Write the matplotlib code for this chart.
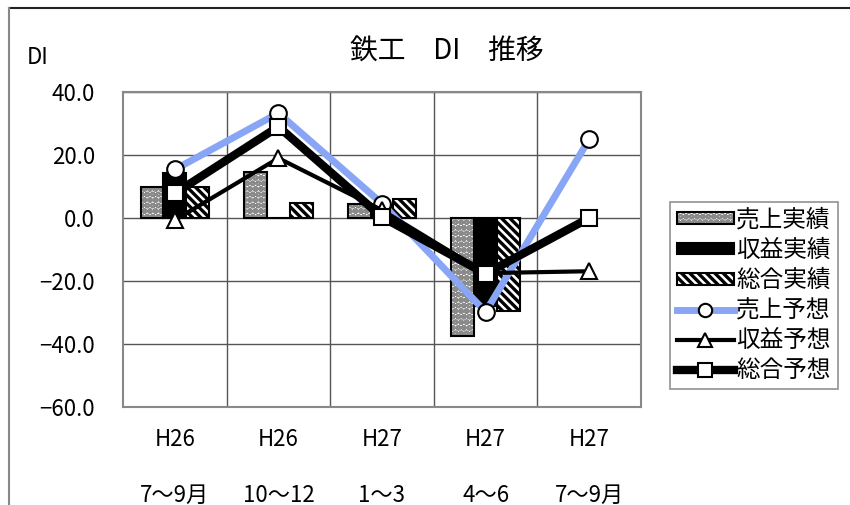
import numpy as np
import matplotlib
matplotlib.use("Agg")
import matplotlib.pyplot as plt
from matplotlib.lines import Line2D
from matplotlib.patches import Patch
from matplotlib.legend_handler import HandlerTuple
from matplotlib.ticker import FuncFormatter, FixedLocator

plt.rcParams['font.family'] = ['Noto Sans CJK JP', 'DejaVu Sans']
plt.rcParams['hatch.linewidth'] = 2.4

# データ
periods_top = ["H26", "H26", "H27", "H27", "H27"]
periods_bottom = ["7～9月", "10～12", "1～3", "4～6", "7～9月"]

uriage_jisseki = [9.7, 14.5, 4.5, -37.5, np.nan]
shueki_jisseki = [14.3, 0.0, 4.0, -28.0, np.nan]
sougou_jisseki = [9.7, 4.9, 5.9, -29.4, np.nan]

uriage_yosou = [15.4, 33.3, 4.6, -29.8, 25.0]
shueki_yosou = [-0.7, 19.0, 2.5, -17.5, -16.9]
sougou_yosou = [7.8, 29.0, 0.3, -17.7, 0.0]

x = np.arange(len(periods_top))
w = 0.22

fig = plt.figure(figsize=(8.5, 5.05), dpi=100)
ax = fig.add_axes([123 / 850, 1 - 407 / 505, 518 / 850, 315 / 505])

# 棒グラフ(実績)
dot_style = dict(facecolor='white', edgecolor='#8a8a8a', hatch='ooo', linewidth=0)
ax.bar(x - w, uriage_jisseki, w, zorder=2, **dot_style)
ax.bar(x - w, uriage_jisseki, w, fill=False, edgecolor='black', linewidth=1.5, zorder=2)
b2 = ax.bar(x, shueki_jisseki, w, color='black', edgecolor='black',
            linewidth=1.5, zorder=2)
b3 = ax.bar(x + w, sougou_jisseki, w, color='white', edgecolor='black',
            hatch='\\\\\\\\', linewidth=1.5, zorder=2)

# 折れ線(予想)
l1, = ax.plot(x, uriage_yosou, color='#89a5f5', lw=5, marker='o', ms=12,
              mfc='white', mec='black', mew=1.5, zorder=3)
l2, = ax.plot(x, shueki_yosou, color='black', lw=3, marker='^', ms=12,
              mfc='white', mec='black', mew=1.5, zorder=4)
l3, = ax.plot(x, sougou_yosou, color='black', lw=6, marker='s', ms=12,
              mfc='white', mec='black', mew=1.5, zorder=5)

ax.set_xlim(-0.5, 4.5)
ax.set_ylim(-60, 40)
ax.set_yticks(np.arange(-60, 41, 20))
ax.yaxis.set_major_formatter(FuncFormatter(lambda v, p: f"{v:.1f}".replace('-', '\u2212')))
ax.set_xticks(x)
ax.set_xticklabels(periods_top)
ax.xaxis.set_minor_locator(FixedLocator(x[:-1] + 0.5))
ax.tick_params(axis='both', which='both', length=0, labelsize=16)
ax.tick_params(axis='y', pad=20)
ax.tick_params(axis='x', pad=15)

ax.set_axisbelow(True)
ax.grid(True, axis='y', which='major', color='#555555', lw=1)
ax.grid(True, axis='x', which='minor', color='#555555', lw=1)
for s in ax.spines.values():
    s.set_color('#888888')
    s.set_linewidth(1.5)

for xi, lab in zip(x, periods_bottom):
    ax.text(xi, -(495 - 407) / 315, lab, transform=ax.get_xaxis_transform(),
            ha='center', va='center', fontsize=16)

fig.text(447 / 850, 1 - 52 / 505, '鉄工　DI　推移', ha='center', va='center', fontsize=20)
fig.text(27 / 850, 1 - 58 / 505, 'DI', ha='left', va='center', fontsize=16)

# 凡例用の売上実績ハンドル(枠線付き)
h1 = Patch(**dot_style)
h1b = Patch(fill=False, edgecolor='black', linewidth=1.5)

leg = fig.legend([(h1, h1b), b2, b3, l1, l2, l3],
                 ['売上実績', '収益実績', '総合実績', '売上予想', '収益予想', '総合予想'],
                 loc='upper left', bbox_to_anchor=(658 / 850, 1 - 190 / 505),
                 fontsize=17, frameon=True, fancybox=False, edgecolor='#777777',
                 handlelength=2.4, handleheight=0.4, handletextpad=0.1,
                 labelspacing=0.3, borderpad=0.3, numpoints=1, markerscale=0.8,
                 handler_map={tuple: HandlerTuple(ndivide=1, pad=0)})
leg.get_frame().set_linewidth(1.2)

# 外枠
fig.add_artist(Line2D([9 / 850, 1.0], [1 - 8 / 505, 1 - 8 / 505],
                      transform=fig.transFigure, color='#222222', lw=1.5))
fig.add_artist(Line2D([9 / 850, 9 / 850], [0.0, 1 - 8 / 505],
                      transform=fig.transFigure, color='#888888', lw=1.5))

fig.savefig('out.png', dpi=100)
